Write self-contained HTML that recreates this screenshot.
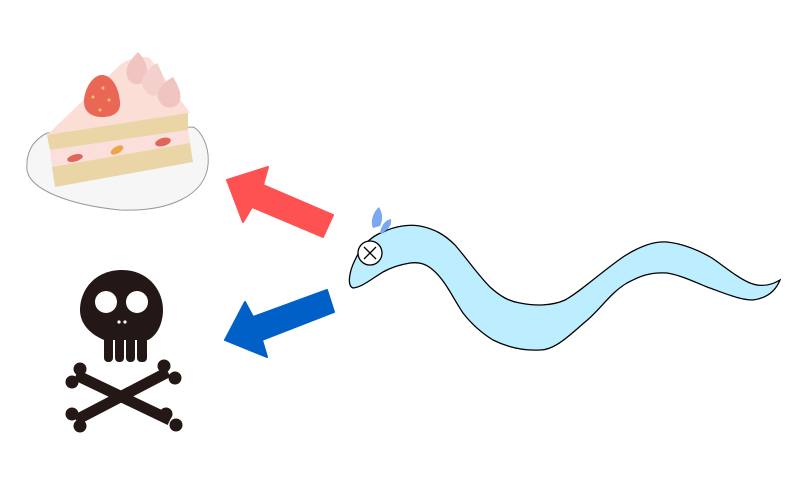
<!DOCTYPE html>
<html><head><meta charset="utf-8"><style>html,body{margin:0;padding:0;background:#fff}svg{display:block}</style></head>
<body>
<svg width="807" height="489" viewBox="0 0 807 489" xmlns="http://www.w3.org/2000/svg">
<!-- plate -->
<path d="M47,133 C30,142 26,155 27,170 C30,190 70,205 120,210 C170,212 205,195 208,165 C210,145 200,130 193,127 Z" fill="#f6f6f6" stroke="#999" stroke-width="1"/>
<!-- cake top -->
<path d="M47,135 L120,65 C130,58 140,55 150,58 L190,113 Z" fill="#fbded6"/>
<!-- front face bands -->
<path d="M47,135 L188,113 L188,130 L50,150 Z" fill="#ead5a6"/>
<path d="M50,150 L188,130 L190,143 L52,167 Z" fill="#fbdfdb"/>
<path d="M52,167 L190,143 L193,162 L55,187 Z" fill="#ead5a6"/>
<!-- fillings -->
<ellipse cx="75" cy="158" rx="8" ry="3.5" transform="rotate(-15 75 158)" fill="#e0645a"/>
<ellipse cx="117" cy="150" rx="7" ry="3.5" transform="rotate(-30 117 150)" fill="#eea44a"/>
<ellipse cx="163" cy="142" rx="8" ry="4" transform="rotate(-15 163 142)" fill="#e0645a"/>
<!-- cream dollops -->
<path d="M129,80 C123,72 128,62 138,52 C146,60 150,72 145,80 C140,86 132,85 129,80Z" fill="#f0c4c0"/>
<path d="M145,90 C138,82 143,72 157,63 C163,74 167,84 162,92 C156,98 148,96 145,90Z" fill="#f4d0cc"/>
<path d="M160,102 C154,94 160,84 173,77 C180,88 183,98 178,104 C172,110 163,108 160,102Z" fill="#f0c4c0"/>
<!-- strawberry -->
<path d="M102,75 C92,75 84,90 84,102 C84,112 92,117 102,117 C114,117 121,112 120,102 C119,88 112,75 102,75Z" fill="#ea6756"/>
<circle cx="103" cy="88" r="1.5" fill="#f6c36a"/><circle cx="93" cy="97" r="1.5" fill="#f6c36a"/><circle cx="109" cy="100" r="1.5" fill="#f6c36a"/><circle cx="100" cy="110" r="1.5" fill="#f6c36a"/>
<!-- red arrow -->
<polygon points="227,180 268,167 263,185 333,215 323,237 252,207 243,222" fill="#fe5252" stroke="#fe5252" stroke-width="2" stroke-linejoin="round"/>
<!-- blue arrow -->
<polygon points="225,340 245,302 253,317 327,290 334,312 262,340 267,357" fill="#0060c8" stroke="#0060c8" stroke-width="2" stroke-linejoin="round"/>
<!-- skull -->
<g fill="#231815">
<path d="M122,270 C95,270 80,290 80,310 C80,325 92,335 104,340 L148,340 C158,335 163,322 163,310 C163,290 148,270 122,270Z"/>
<rect x="104" y="330" width="9" height="32" rx="4"/><rect x="115" y="330" width="9" height="32" rx="4"/><rect x="126" y="330" width="9" height="32" rx="4"/><rect x="137" y="330" width="10" height="32" rx="4"/>
<line x1="76" y1="375" x2="170" y2="420" stroke="#231815" stroke-width="11"/>
<line x1="168" y1="372" x2="76" y2="420" stroke="#231815" stroke-width="11"/>
<circle cx="72" cy="382" r="6.5"/><circle cx="80" cy="369" r="6.5"/>
<circle cx="166" cy="414" r="6.5"/><circle cx="176" cy="425" r="6.5"/>
<circle cx="164" cy="366" r="6.5"/><circle cx="175" cy="378" r="6.5"/>
<circle cx="72" cy="414" r="6.5"/><circle cx="80" cy="426" r="6.5"/>
</g>
<circle cx="106" cy="302" r="11" fill="#fff"/><circle cx="137" cy="302" r="11" fill="#fff"/>
<circle cx="119" cy="322" r="1.6" fill="#fff"/><circle cx="125" cy="322" r="1.6" fill="#fff"/>
<!-- worm -->
<path d="M355,260 C362,245 372,236 383,232 C395,226 410,224 420,226 C435,229 445,235 455,245 C468,260 478,275 490,287 C500,296 508,301 520,303 C535,306 552,306 565,300 C580,292 600,273 623,257 C640,246 655,241 667,242 C685,244 700,251 712,258 C725,267 738,278 750,283 C760,287 770,286 780,280 C776,290 768,298 753,300 C740,300 724,293 707,287 C695,282 680,275 667,273 C650,272 640,276 627,283 C610,293 600,310 585,322 C570,335 555,350 540,350 C520,351 505,346 493,340 C480,332 470,322 463,313 C453,298 445,280 433,270 C425,263 418,262 410,263 C398,265 390,268 383,272 C370,280 362,287 353,288 C347,286 349,272 355,260Z" fill="#bdeeff" stroke="#000" stroke-width="1.3"/>
<circle cx="370" cy="253" r="12" fill="#fff" stroke="#000" stroke-width="1.3"/>
<line x1="364" y1="247" x2="376" y2="259" stroke="#000" stroke-width="1.3"/><line x1="376" y1="247" x2="364" y2="259" stroke="#000" stroke-width="1.3"/>
<path d="M373,228 C370,222 373,212 379,207 C383,214 383,220 380,226 Z" fill="#7aa9f0"/>
<path d="M380,233 C381,226 385,220 391,219 C392,225 388,230 382,233 Z" fill="#7aa9f0"/>
</svg>
</body></html>
